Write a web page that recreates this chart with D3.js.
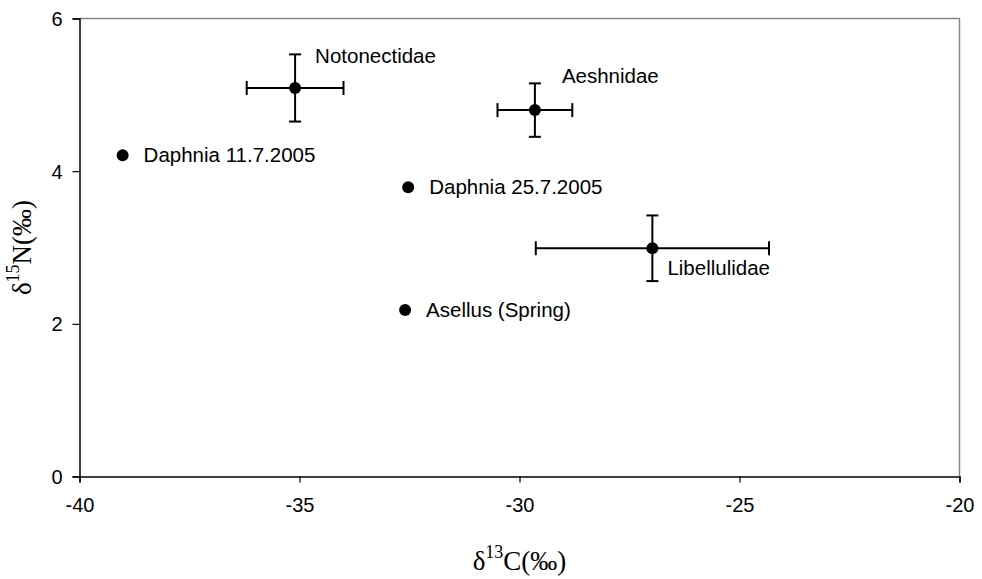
<!DOCTYPE html>
<html><head><meta charset="utf-8">
<script src="https://cdn.jsdelivr.net/npm/d3@7"></script>
<style>body{margin:0;background:#fff}svg{display:block}</style>
</head><body>
<svg id="c" width="982" height="579"></svg>
<script>
const names = ["Daphnia 11.7.2005","Notonectidae","Aeshnidae","Daphnia 25.7.2005","Libellulidae","Asellus (Spring)"];
const d13C = [-39.02,-35.1,-29.65,-32.53,-26.98,-32.6];
const d15N = [4.21,5.09,4.80,3.79,2.99,2.18];
const errC = [0,1.1,0.85,0,2.65,0];
const errN = [0,0.44,0.35,0,0.43,0];
const labelPos = ["right","topright","topright2","right","bottomright","right"];
const xTicks = [-40,-35,-30,-25,-20];
const yTicks = [0,2,4,6];

const svg = d3.select("#c");
const m = {l:79.5,r:959.5,t:18.5,b:476.5};
const x = d3.scaleLinear().domain([-40,-20]).range([m.l,m.r]);
const y = d3.scaleLinear().domain([0,6]).range([m.b,m.t]);
const SANS = "Liberation Sans, Arial, sans-serif";
const SERIF = "Liberation Serif, Times New Roman, serif";

// plot border (gray)
svg.append("path").attr("d",`M${m.l},${m.t}H${m.r}V${m.b}`).attr("fill","none").attr("stroke","#888").attr("stroke-width",1.5);

const xa = svg.append("g").attr("transform",`translate(0,${m.b})`)
  .call(d3.axisBottom(x).tickValues(xTicks).tickSize(6).tickPadding(15).tickFormat(d=>String(d)));
const ya = svg.append("g").attr("transform",`translate(${m.l},0)`)
  .call(d3.axisLeft(y).tickValues(yTicks).tickSize(7).tickPadding(10).tickFormat(d=>String(d)));
[xa,ya].forEach(a=>{
  a.select(".domain").attr("stroke","#000").attr("stroke-width",1.5);
  a.selectAll(".tick line").attr("stroke","#000").attr("stroke-width",1.2);
  a.selectAll(".tick text").attr("font-family",SANS).attr("font-size",20).attr("fill","#000");
});
ya.selectAll(".tick text").attr("dy","0.35em");

const data = names.map((n,i)=>({n,cx:d13C[i],cy:d15N[i],ex:errC[i],ey:errN[i],lp:labelPos[i]}));
const g = svg.append("g");
data.forEach(d=>{
  const px=x(d.cx), py=y(d.cy);
  if(d.ex>0){
    const x0=x(d.cx-d.ex), x1=x(d.cx+d.ex);
    g.append("line").attr("x1",x0).attr("x2",x1).attr("y1",py).attr("y2",py).attr("stroke","#000").attr("stroke-width",2);
    [x0,x1].forEach(xx=>g.append("line").attr("x1",xx).attr("x2",xx).attr("y1",py-7).attr("y2",py+7).attr("stroke","#000").attr("stroke-width",2));
  }
  if(d.ey>0){
    const y0=y(d.cy-d.ey), y1=y(d.cy+d.ey);
    g.append("line").attr("x1",px).attr("x2",px).attr("y1",y0).attr("y2",y1).attr("stroke","#000").attr("stroke-width",2);
    [y0,y1].forEach(yy=>g.append("line").attr("x1",px-6).attr("x2",px+6).attr("y1",yy).attr("y2",yy).attr("stroke","#000").attr("stroke-width",2));
  }
  g.append("circle").attr("cx",px).attr("cy",py).attr("r",6).attr("fill","#000");
  let tx=px+21, ty=py;
  if(d.lp==="topright"){tx=px+20; ty=py-32;}
  if(d.lp==="topright2"){tx=px+27; ty=py-34;}
  if(d.lp==="bottomright"){tx=px+15; ty=py+20;}
  g.append("text").attr("x",tx).attr("y",ty).attr("dy","0.35em").text(d.n)
    .attr("font-family",SANS).attr("font-size",20.5).attr("fill","#000");
});

// axis titles
const xt = svg.append("text").attr("x",x(-30)).attr("y",570).attr("text-anchor","middle")
  .attr("font-family",SERIF).attr("font-size",27).attr("fill","#000");
xt.append("tspan").text("δ");
xt.append("tspan").text("13").attr("font-size",18).attr("dy",-12);
xt.append("tspan").text("C(‰)").attr("dy",12);

const yt = svg.append("text").attr("transform",`translate(31,${y(3)}) rotate(-90)`).attr("text-anchor","middle")
  .attr("font-family",SERIF).attr("font-size",27).attr("fill","#000");
yt.append("tspan").text("δ");
yt.append("tspan").text("15").attr("font-size",18).attr("dy",-12);
yt.append("tspan").text("N(‰)").attr("dy",12);
</script>
</body></html>
